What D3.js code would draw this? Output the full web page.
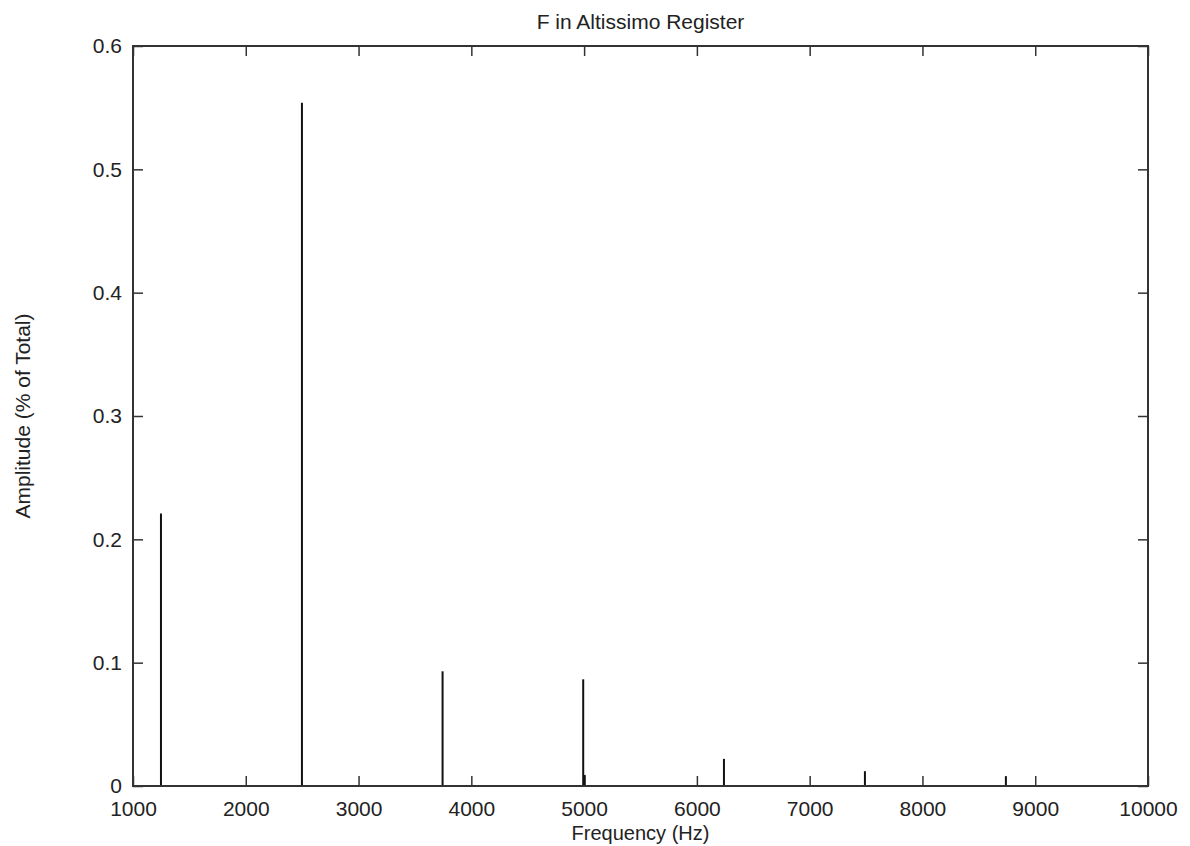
<!DOCTYPE html>
<html>
<head>
<meta charset="utf-8">
<script src="https://cdn.jsdelivr.net/npm/d3@7"></script>
<style>
  body { margin: 0; background: #fff; }
  text { font-family: "Liberation Sans", Arial, sans-serif; fill: #222; }
</style>
</head>
<body>
<div id="chart"></div>
<script>
// harmonics of the note (Hz) and their amplitudes
var freqs = [1248, 2498, 3745, 4992, 5005, 6240, 7490, 8740];
var amps  = [0.221, 0.554, 0.093, 0.0865, 0.009, 0.022, 0.012, 0.008];

var xTicks = [1000, 2000, 3000, 4000, 5000, 6000, 7000, 8000, 9000, 10000];
var yTicks = [0, 0.1, 0.2, 0.3, 0.4, 0.5, 0.6];

var title = "F in Altissimo Register";
var xTitle = "Frequency (Hz)";
var yTitle = "Amplitude (% of Total)";

var W = 1190, H = 846;
var m = {top: 46, right: 42, bottom: 60, left: 133};
var w = W - m.left - m.right, h = H - m.top - m.bottom;
var fs = 21;
var ink = "#333";

var svg = d3.select("#chart").append("svg")
    .attr("width", W).attr("height", H);

var g = svg.append("g").attr("transform", "translate(" + m.left + "," + m.top + ")");

var x = d3.scaleLinear().domain([1000, 10000]).range([0, w]);
var y = d3.scaleLinear().domain([0, 0.6]).range([h, 0]);

var fmtY = function(d) { return d === 0 ? "0" : d3.format(".1f")(d); };

// axes, ticks pointing inwards on all four sides
function styleAxis(sel) {
  sel.select(".domain").remove();
  sel.selectAll(".tick line").attr("stroke", ink).attr("stroke-width", 1.5);
  sel.selectAll(".tick text").style("font-size", fs + "px").attr("fill", "#222");
}

g.append("g").attr("transform", "translate(0," + h + ")")
  .call(d3.axisBottom(x).tickValues(xTicks).tickFormat(d3.format("d"))
        .tickSizeInner(-10).tickSizeOuter(0).tickPadding(15))
  .call(styleAxis);

g.append("g")
  .call(d3.axisTop(x).tickValues(xTicks).tickFormat("")
        .tickSizeInner(-10).tickSizeOuter(0))
  .call(styleAxis);

g.append("g")
  .call(d3.axisLeft(y).tickValues(yTicks).tickFormat(fmtY)
        .tickSizeInner(-10).tickSizeOuter(0).tickPadding(11))
  .call(styleAxis);

g.append("g").attr("transform", "translate(" + w + ",0)")
  .call(d3.axisRight(y).tickValues(yTicks).tickFormat("")
        .tickSizeInner(-10).tickSizeOuter(0))
  .call(styleAxis);

// stems
var data = freqs.map(function(f, i) { return {f: f, a: amps[i]}; });

g.selectAll("line.stem")
  .data(data)
  .enter()
  .append("line")
  .attr("class", "stem")
  .attr("x1", function(d) { return x(d.f); })
  .attr("x2", function(d) { return x(d.f); })
  .attr("y1", y(0))
  .attr("y2", function(d) { return y(d.a); })
  .attr("stroke", "#111")
  .attr("stroke-width", 2);

// frame
g.append("rect")
  .attr("width", w).attr("height", h)
  .attr("fill", "none")
  .attr("stroke", ink)
  .attr("stroke-width", 2);

// titles
svg.append("text")
  .attr("x", m.left + w / 2).attr("y", 29)
  .attr("text-anchor", "middle")
  .style("font-size", fs + "px")
  .text(title);

svg.append("text")
  .attr("x", m.left + w / 2).attr("y", 840)
  .attr("text-anchor", "middle")
  .style("font-size", "20px")
  .text(xTitle);

svg.append("text")
  .attr("transform", "translate(30," + (m.top + h / 2) + ") rotate(-90)")
  .attr("text-anchor", "middle")
  .style("font-size", fs + "px")
  .text(yTitle);
</script>
</body>
</html>
